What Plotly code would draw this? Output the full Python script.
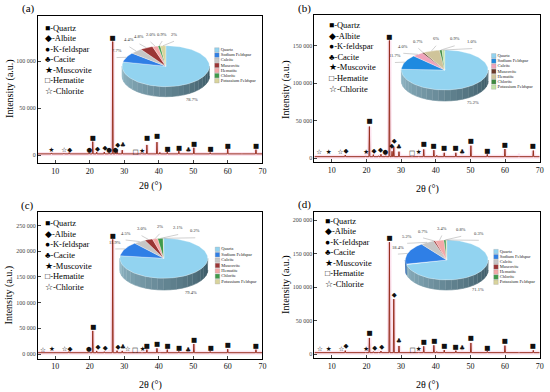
import numpy as np
import plotly.graph_objects as go

W, H = 550, 392
SERIF = "Liberation Serif, Times New Roman, serif"

# ---------------- data ----------------
x_range = [5, 70]
x_tick_vals = [10, 20, 30, 40, 50, 60, 70]

phase_codes = ["Q", "A", "K", "C", "M", "H", "Ch"]
phase_names = ["Quartz", "Albite", "K-feldspar", "Cacite", "Muscovite", "Hematite", "Chlorite"]
phase_glyphs = ["■", "◆", "●", "♣", "★", "□", "☆"]

pie_labels = ["Quartz", "Sodium Feldspar", "Calcite", "Muscovite", "Hematite", "Chlorite", "Potassium Feldspar"]

# ---- panel (a)
a_base = 1500
a_peak_x = [8.9, 12.5, 14.0, 19.8, 20.86, 22.0, 24.2, 25.6, 26.64, 27.4, 27.9, 29.4, 33.2, 35.1,
            36.54, 39.46, 40.3, 42.45, 45.8, 48.6, 50.14, 54.87, 59.96, 64.0, 68.14]
a_peak_y = [2500, 2200, 2800, 2500, 14500, 3500, 3500, 2600, 121000, 3000, 6000, 5500, 1900, 2200,
            11000, 14000, 3000, 3500, 4500, 2000, 8000, 3000, 7000, 1800, 6000]
a_mark_code = ["M", "Ch", "A", "K", "Q", "A", "A", "K", "Q", "K", "A", "C", "H", "M",
               "Q", "Q", "Q", "Q", "C", "Q", "Q", "Q", "Q"]
a_mark_x = [8.9, 12.6, 14.2, 19.9, 20.9, 22.2, 24.4, 25.6, 26.6, 27.4, 28.1, 29.6, 33.3, 35.2,
            36.6, 39.5, 42.5, 45.9, 48.6, 50.2, 55.0, 60.0, 68.2]
a_mark_y = [4900, 4900, 5600, 4900, 18100, 6700, 7000, 5300, 124500, 5600, 11000, 11000, 3200, 4300,
            17700, 19800, 6000, 7800, 5300, 11700, 6000, 9900, 9200]
a_ytick_vals = [0, 50000, 100000]
a_ytick_text = ["0", "50 000", "100 000"]
a_pie = [78.7, 7.7, 4.4, 4.8, 2.0, 0.9, 2.0]
a_pie_text = ["78.7%", "7.7%", "4.4%", "4.8%", "2.0%", "0.9%", "2%"]

# ---- panel (b)
b_base = 1800
b_peak_x = [6.2, 8.8, 12.4, 13.9, 19.8, 20.86, 22.0, 23.5, 24.2, 25.6, 26.64, 27.4, 27.9, 29.4,
            33.2, 35.1, 36.54, 39.46, 40.3, 42.45, 45.8, 47.6, 50.14, 54.87, 59.96, 64.0, 68.14]
b_peak_y = [2300, 2800, 2600, 4000, 2800, 42000, 4500, 3000, 5000, 3000, 157000, 9000, 15000, 8500,
            2000, 2500, 11500, 10500, 3500, 7000, 7000, 2500, 16500, 5000, 12000, 2500, 10000]
b_mark_code = ["Ch", "M", "Ch", "A", "M", "Q", "A", "A", "K", "Q", "A", "A", "C", "H", "M",
               "Q", "Q", "Q", "Q", "C", "Q", "Q", "Q", "Q"]
b_mark_x = [6.4, 9.1, 12.5, 14.1, 19.9, 20.9, 22.2, 24.1, 25.5, 26.6, 27.3, 28.0, 29.4, 33.2, 35.1,
            36.6, 39.4, 42.4, 45.7, 47.6, 50.1, 54.9, 59.9, 68.0]
b_mark_y = [7100, 7100, 7100, 8400, 7100, 48500, 9400, 9800, 8000, 161400, 15100, 21800, 13800, 6200, 8000,
            18700, 15100, 12400, 12400, 8000, 21800, 9400, 17000, 15100]
b_ytick_vals = [0, 50000, 100000, 150000]
b_ytick_text = ["0", "50 000", "100 000", "150 000"]
b_pie = [75.2, 11.7, 4.0, 0.7, 6.0, 0.9, 1.0]
b_pie_text = ["75.2%", "11.7%", "4.0%", "0.7%", "6%", "0.9%", "1.0%"]

# ---- panel (c)
c_base = 2500
c_peak_x = [6.2, 8.8, 12.4, 13.9, 19.8, 20.86, 22.0, 24.2, 25.6, 26.64, 27.9, 29.4, 30.9, 33.2, 35.1,
            36.54, 39.46, 40.3, 42.45, 45.8, 48.6, 50.14, 54.87, 59.96, 64.0, 68.14]
c_peak_y = [3000, 3500, 3200, 4500, 3500, 45000, 6000, 4500, 3500, 223000, 6500, 6000, 3000, 2800, 3000,
            8500, 11000, 3500, 8500, 5000, 3000, 19500, 5000, 9500, 3000, 8500]
c_mark_code = ["Ch", "M", "Ch", "A", "K", "Q", "A", "A", "Q", "A", "C", "Ch", "H", "M",
               "Q", "Q", "Q", "Q", "C", "Q", "Q", "Q", "Q"]
c_mark_x = [6.4, 9.0, 12.7, 14.3, 19.7, 21.0, 22.4, 24.5, 26.7, 28.2, 29.6, 31.0, 33.1, 35.3,
            36.5, 39.5, 42.5, 45.9, 48.5, 50.2, 55.1, 60.0, 68.1]
c_mark_y = [7800, 9100, 9100, 9100, 9100, 52500, 13600, 11000, 229500, 13600, 13600, 9100, 7200, 9100,
            15600, 18100, 15600, 11700, 7800, 26600, 11700, 16200, 15600]
c_ytick_vals = [0, 50000, 100000, 150000, 200000, 250000]
c_ytick_text = ["0 000", "50 000", "100 000", "150 000", "200 000", "250 000"]
c_pie = [79.4, 11.9, 4.5, 3.0, 2.0, 2.1, 0.2]
c_pie_text = ["79.4%", "11.9%", "4.5%", "3.0%", "2%", "2.1%", "0.2%"]

# ---- panel (d)
d_base = 2000
d_peak_x = [6.2, 8.8, 12.4, 13.9, 19.8, 20.86, 22.0, 23.5, 24.2, 26.64, 27.9, 29.4, 33.2, 35.1,
            36.54, 39.46, 40.3, 42.45, 45.8, 47.6, 50.14, 54.87, 59.96, 64.0, 68.14]
d_peak_y = [2500, 2800, 2800, 5000, 2800, 24000, 3500, 3000, 4500, 167000, 82000, 12000, 2300, 2800,
            11500, 13000, 3500, 6000, 5000, 2800, 16500, 4000, 12500, 2500, 5500]
d_mark_code = ["Ch", "M", "Ch", "A", "M", "Q", "A", "A", "Q", "A", "C", "H", "M",
               "Q", "Q", "Q", "Q", "C", "Q", "Q", "Q", "Q"]
d_mark_x = [6.6, 9.1, 12.8, 14.1, 19.9, 20.9, 22.4, 24.4, 26.7, 28.0, 29.4, 33.3, 35.1,
            36.6, 39.6, 42.5, 45.7, 47.6, 50.1, 54.9, 59.9, 68.0]
d_mark_y = [7000, 7000, 7000, 10900, 7000, 30300, 9000, 10400, 172700, 88100, 18400, 6000, 7500,
            17900, 19400, 11400, 10400, 8500, 22900, 9000, 18400, 10900]
d_ytick_vals = [0, 50000, 100000, 150000, 200000]
d_ytick_text = ["0", "50 000", "100 000", "150 000", "200 000"]
d_pie = [71.1, 18.4, 5.2, 0.7, 3.4, 0.8, 0.3]
d_pie_text = ["71.1%", "18.4%", "5.2%", "0.7%", "3.4%", "0.8%", "0.3%"]

# ---------------- styles ----------------
pie_colors_std = ["#92d3f0", "#2f7fe6", "#c6c6c6", "#9b3535", "#f4a8a8", "#3f9a4a", "#d9d49c"]
pie_colors_b = ["#92d3f0", "#1f8ae0", "#f0a3bb", "#6b3a2a", "#cfc49a", "#3d8a40", "#bfe3a6"]
LINE_COL = "#982f1f"
HALO_COL = "rgba(247,186,214,0.4)"

panels = [
    dict(lab="(a)", base=a_base, px=a_peak_x, py=a_peak_y, mc=a_mark_code, mx=a_mark_x, my=a_mark_y,
         ytv=a_ytick_vals, ytt=a_ytick_text, pie=a_pie, pie_text=a_pie_text, pcol=pie_colors_std,
         box=(38.3, 264.3, 16, 163), yr=[-8200, 148200], lab_xy=(28.3, 8),
         ytitle_xy=(10, 88), xtitle_y=186.5, leg=(43, 28, 10.45),
         pie_geo=(167, 66.2, 44, 20.5, 10), pleg=(1.17, 0.79, -0.25), lspan=(128, 82)),
    dict(lab="(b)", base=b_base, px=b_peak_x, py=b_peak_y, mc=b_mark_code, mx=b_mark_x, my=b_mark_y,
         ytv=b_ytick_vals, ytt=b_ytick_text, pie=b_pie, pie_text=b_pie_text, pcol=pie_colors_b,
         box=(316.7, 543.7, 15, 162.3), yr=[-5700, 191000], lab_xy=(306.7, 8),
         ytitle_xy=(288, 89), xtitle_y=188.5, leg=(329, 25, 10.6),
         pie_geo=(448, 70, 43.7, 20, 11), pleg=(1.13, 0.71, -0.26), lspan=(135, 62)),
    dict(lab="(c)", base=c_base, px=c_peak_x, py=c_peak_y, mc=c_mark_code, mx=c_mark_x, my=c_mark_y,
         ytv=c_ytick_vals, ytt=c_ytick_text, pie=c_pie, pie_text=c_pie_text, pcol=pie_colors_std,
         box=(38.3, 264.3, 212, 358.5), yr=[-8750, 276200], lab_xy=(27.5, 205),
         ytitle_xy=(9.5, 295), xtitle_y=385, leg=(43.3, 223.3, 10.6),
         pie_geo=(165, 258.3, 44.3, 20, 11.7), pleg=(1.22, 0.45, -0.27), lspan=(130, 58)),
    dict(lab="(d)", base=d_base, px=d_peak_x, py=d_peak_y, mc=d_mark_code, mx=d_mark_x, my=d_mark_y,
         ytv=d_ytick_vals, ytt=d_ytick_text, pie=d_pie, pie_text=d_pie_text, pcol=pie_colors_std,
         box=(316.7, 543.7, 211.7, 358.3), yr=[-6400, 212500], lab_xy=(306.7, 204),
         ytitle_xy=(288, 284), xtitle_y=385, leg=(325, 221, 10.45),
         pie_geo=(450, 260, 41.7, 20, 10), pleg=(1.19, 0.42, -0.255), lspan=(135, 55)),
]


def hex_rgb(h):
    h = h.lstrip("#")
    return tuple(int(h[i:i + 2], 16) for i in (0, 2, 4))


def mix(c1, c2, f):
    return "rgb(%d,%d,%d)" % tuple(round(a + (b - a) * f) for a, b in zip(c1, c2))


def profile(base, pxs, pys, w=0.13):
    xs, ys = [x_range[0]], [base]
    for p, h in sorted(zip(pxs, pys)):
        xs += [p - w, p, p + w]
        ys += [base, h, base]
    xs.append(x_range[1])
    ys.append(base)
    return xs, ys


fig = go.Figure()
layout = dict(width=W, height=H, margin=dict(l=0, r=0, t=0, b=0), showlegend=False,
              paper_bgcolor="white", plot_bgcolor="rgba(0,0,0,0)", annotations=[])
ann = layout["annotations"]
glyph_of = dict(zip(phase_codes, phase_glyphs))


def paper_text(text, x, y, size, xanchor="center", yanchor="middle", angle=0, color="black"):
    return dict(text=text, x=x / W, y=1 - y / H, xref="paper", yref="paper", showarrow=False,
                xanchor=xanchor, yanchor=yanchor, textangle=angle,
                font=dict(family=SERIF, size=size, color=color))


for i, P in enumerate(panels):
    n = i + 1
    xa = "x" if n == 1 else f"x{n}"
    ya = "y" if n == 1 else f"y{n}"
    l, r, t, b = P["box"]
    layout["xaxis" if n == 1 else f"xaxis{n}"] = dict(
        domain=[l / W, r / W], range=x_range, anchor=ya, tickvals=x_tick_vals,
        showline=True, mirror=True, linecolor="black", linewidth=1, ticks="inside", ticklen=3,
        tickfont=dict(family=SERIF, size=8, color="#111"), showgrid=False, zeroline=False)
    layout["yaxis" if n == 1 else f"yaxis{n}"] = dict(
        domain=[1 - b / H, 1 - t / H], range=P["yr"], anchor=xa, tickvals=P["ytv"], ticktext=P["ytt"],
        showline=True, mirror=True, linecolor="black", linewidth=1, ticks="inside", ticklen=3,
        tickfont=dict(family=SERIF, size=6, color="#444"), showgrid=False, zeroline=False)

    lx, ly = profile(P["base"], P["px"], P["py"])
    fig.add_trace(go.Scatter(x=lx, y=ly, mode="lines", line=dict(color=HALO_COL, width=4),
                             xaxis=xa, yaxis=ya, hoverinfo="skip"))
    fig.add_trace(go.Scatter(x=lx, y=ly, mode="lines", line=dict(color=LINE_COL, width=1),
                             xaxis=xa, yaxis=ya, hoverinfo="skip"))
    fig.add_trace(go.Scatter(x=P["mx"], y=P["my"], mode="text",
                             text=[glyph_of[c] for c in P["mc"]],
                             textfont=dict(family="DejaVu Sans", size=6.5, color="#111"),
                             xaxis=xa, yaxis=ya, hoverinfo="skip", cliponaxis=False))

    # texts
    ann.append(paper_text(P["lab"], P["lab_xy"][0], P["lab_xy"][1], 11))
    ann.append(paper_text("Intensity (a.u.)", P["ytitle_xy"][0], P["ytitle_xy"][1], 10, angle=-90))
    ann.append(paper_text("2θ (°)", (l + r) / 2, P["xtitle_y"], 10))
    lx0, ly0, lst = P["leg"]
    for k, (g, nm) in enumerate(zip(phase_glyphs, phase_names)):
        ann.append(paper_text(f"{g}-{nm}", lx0, ly0 + k * lst, 8.5, xanchor="left"))

    # ---------- inset 3D-looking pie ----------
    m = n + 4
    pxa, pya = f"x{m}", f"y{m}"
    cx, cy, hw, hh, dep = P["pie_geo"]
    ux0, ux1, uy0, uy1 = -1.6, 2.2, -2.4, 1.8
    layout[f"xaxis{m}"] = dict(domain=[(cx + ux0 * hw) / W, (cx + ux1 * hw) / W], range=[ux0, ux1],
                               anchor=pya, visible=False, fixedrange=True)
    layout[f"yaxis{m}"] = dict(domain=[1 - (cy - uy0 * hh) / H, 1 - (cy - uy1 * hh) / H], range=[uy0, uy1],
                               anchor=pxa, visible=False, fixedrange=True)
    d_u = dep / hh
    vals = P["pie"]
    tot = sum(vals)
    cols = P["pcol"]
    starts, ends = [], []
    a0 = 90.0
    for v in vals:
        a1 = a0 - 360.0 * v / tot
        starts.append(a0)
        ends.append(a1)
        a0 = a1
    # side walls (front half only)
    for k, (s, e) in enumerate(zip(starts, ends)):
        lo, hi = max(e, -180.0), min(s, 0.0)
        if lo >= hi:
            continue
        base_rgb = hex_rgb(cols[k])
        if k == 0:
            light, dark = (146, 184, 199), (55, 84, 96)
        else:
            light = tuple(int(c * 0.75) for c in base_rgb)
            dark = tuple(int(c * 0.5) for c in base_rgb)
        nseg = max(1, int((hi - lo) / 8))
        edges = np.linspace(hi, lo, nseg + 1)
        for j in range(nseg):
            ta = np.linspace(edges[j], edges[j + 1], 6)
            rad = np.radians(ta)
            xs = list(np.cos(rad)) + list(np.cos(rad[::-1]))
            ys = list(np.sin(rad)) + list(np.sin(rad[::-1]) - d_u)
            f = ((edges[j] + edges[j + 1]) / 2 + 180) / 180
            c = mix(light, dark, f)
            fig.add_trace(go.Scatter(x=xs, y=ys, fill="toself", fillcolor=c, mode="lines",
                                     line=dict(color=c, width=0.6), xaxis=pxa, yaxis=pya, hoverinfo="skip"))
    # top faces
    for k, (s, e) in enumerate(zip(starts, ends)):
        na = max(3, int((s - e) / 2) + 2)
        rad = np.radians(np.linspace(s, e, na))
        xs = [0] + list(np.cos(rad)) + [0]
        ys = [0] + list(np.sin(rad)) + [0]
        fig.add_trace(go.Scatter(x=xs, y=ys, fill="toself", fillcolor=cols[k], mode="lines",
                                 line=dict(color="rgba(255,255,255,0.7)", width=0.4),
                                 xaxis=pxa, yaxis=pya, hoverinfo="skip"))
    # percent labels with leader lines
    mids = [(s + e) / 2 for s, e in zip(starts, ends)]
    lab_angles = np.linspace(P["lspan"][0], P["lspan"][1], len(vals) - 2)
    lines_x, lines_y = [], []
    for k in range(len(vals)):
        mr = np.radians(mids[k])
        if k == 0:
            tx, ty = 0.95 * np.cos(mr), np.sin(mr) - d_u - 0.35
            sx, sy = None, None
        elif k == 1:
            tx, ty = 1.25 * np.cos(mr), 1.25 * np.sin(mr)
            sx, sy = np.cos(mr), np.sin(mr)
        else:
            la = np.radians(lab_angles[k - 2])
            tx, ty = 1.35 * np.cos(la), 1.35 * np.sin(la)
            sx, sy = np.cos(mr), np.sin(mr)
        if sx is not None:
            lines_x += [sx, tx, None]
            lines_y += [sy, ty - 0.12, None]
        ann.append(dict(text=P["pie_text"][k], x=tx, y=ty, xref=pxa, yref=pya, showarrow=False,
                        xanchor="center", yanchor="bottom" if k > 0 else "middle",
                        font=dict(family=SERIF, size=4.5, color="#333")))
    fig.add_trace(go.Scatter(x=lines_x, y=lines_y, mode="lines", line=dict(color="#888", width=0.4),
                             xaxis=pxa, yaxis=pya, hoverinfo="skip"))
    # pie legend
    gx, gy0, gst = P["pleg"]
    fig.add_trace(go.Scatter(x=[gx] * len(pie_labels), y=[gy0 + k * gst for k in range(len(pie_labels))],
                             mode="markers+text", text=pie_labels, textposition="middle right",
                             marker=dict(symbol="square", size=4.5, color=cols,
                                         line=dict(color="#999", width=0.3)),
                             textfont=dict(family=SERIF, size=4.5, color="#222"),
                             xaxis=pxa, yaxis=pya, hoverinfo="skip", cliponaxis=False))

fig.update_layout(**layout)
fig.write_html("out.html", config={"displayModeBar": False},
               post_script="document.body.style.margin='0';")
